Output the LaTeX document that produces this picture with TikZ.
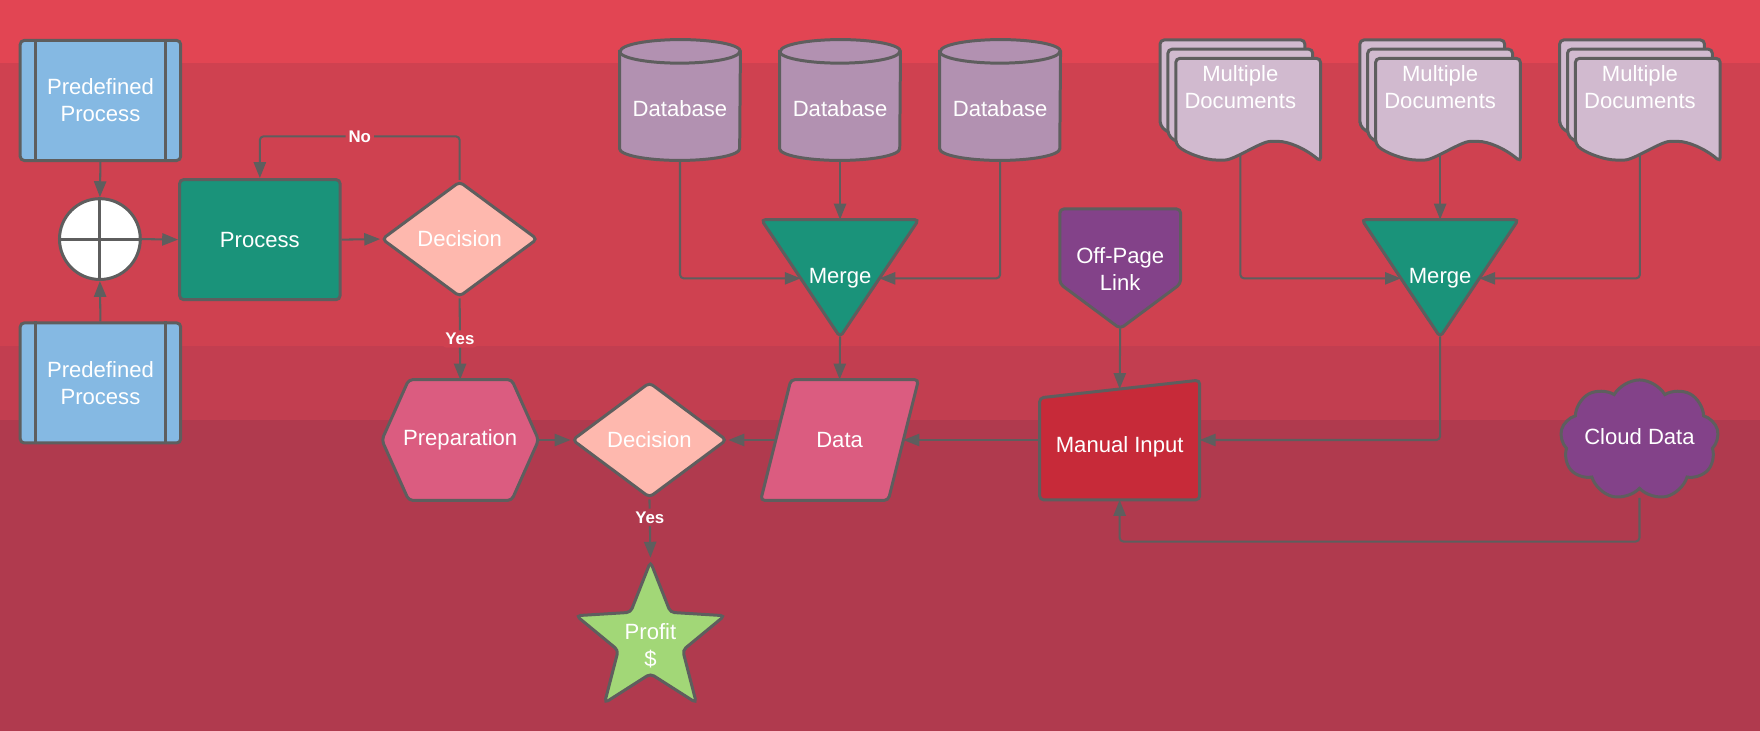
\documentclass[tikz,border=0pt]{standalone}
\usepackage{fontspec}
\setmainfont{Liberation Sans}
\usetikzlibrary{positioning, shapes.geometric, shapes.symbols, arrows.meta, calc, backgrounds}

\definecolor{bgtop}{HTML}{E24553}
\definecolor{bgmid}{HTML}{CF4150}
\definecolor{bglow}{HTML}{C23E50}
\definecolor{bgbot}{HTML}{B03A4E}
\definecolor{edge}{HTML}{5E5E5E}
\definecolor{predef}{HTML}{85B9E3}
\definecolor{tealc}{HTML}{1A937A}
\definecolor{decis}{HTML}{FEB8AE}
\definecolor{prepc}{HTML}{DB5C80}
\definecolor{dbc}{HTML}{B291B1}
\definecolor{docc}{HTML}{D1BACF}
\definecolor{purp}{HTML}{834289}
\definecolor{manc}{HTML}{C72A39}
\definecolor{starc}{HTML}{A2D777}

\newlength{\ux}
\setlength{\ux}{0.6pt}

\tikzstyle{flow} = [draw=edge, line width=1.1pt, -{Triangle[length=8.5pt,width=6.5pt]}, rounded corners=2pt]
\tikzstyle{edgeline} = [draw=edge, line width=1.6pt, rounded corners=2.2pt]
\tikzstyle{lbl} = [text=white, font=\bfseries\fontsize{9}{10}\selectfont, inner sep=1.5pt]

\begin{document}
\begin{tikzpicture}[x=0.6pt, y=-0.6pt, every node/.style={text=white, align=center, inner sep=0pt, font=\fontsize{11.8}{14.4}\selectfont}]
  \useasboundingbox (0,0) rectangle (1568,651);

  % Background bands
  \begin{scope}[on background layer]
    \fill[bgtop] (0,0) rectangle (1568,56);
    \fill[bgmid] (0,56) rectangle (1568,308);
    \fill[bglow] (0,308) rectangle (1568,374);
    \fill[bgbot] (0,374) rectangle (1568,651);
  \end{scope}

  % Left part
  \node[edgeline, fill=predef, minimum width=143\ux, minimum height=107\ux] (pp1) at (89.5,89.5) {Predefined\\Process};
  \node[edgeline, fill=predef, minimum width=143\ux, minimum height=107\ux, below=142\ux of pp1] (pp2) {Predefined\\Process};
  \foreach \p in {pp1,pp2} {
    \draw[edgeline] ([xshift=15\ux]\p.north west) -- ([xshift=15\ux]\p.south west)
                    ([xshift=-15\ux]\p.north east) -- ([xshift=-15\ux]\p.south east);
  }
  \node[edgeline, circle, fill=white, minimum size=72\ux] (sum) at (89,213) {};
  \draw[edgeline] (sum.north) -- (sum.south) (sum.west) -- (sum.east);
  \node[edgeline, fill=tealc, minimum width=143\ux, minimum height=107\ux] (proc) at (231.5,213.5) {Process};
  \node[edgeline, diamond, fill=decis, minimum width=139\ux, minimum height=103\ux] (dec1) at (409.5,213) {Decision};

  % Middle row
  \node[minimum width=139\ux, minimum height=107\ux] (prep) at (410,392) {Preparation};
  \node[edgeline, diamond, fill=decis, minimum width=138\ux, minimum height=103\ux] (dec2) at (578.6,392) {Decision};
  \node[minimum width=113\ux, minimum height=107\ux] (data) at (748,392) {Data};
  \node[edgeline, star, star points=5, star point ratio=2.3, fill=starc, minimum size=139\ux,
        label={[yshift=-3pt]center:Profit\\\$}] (profit) at (579.5,570) {};

  % Databases and merge
  \node[minimum width=107\ux, minimum height=107\ux, text height=18pt, text depth=0pt] (db1) at (605.8,89.1) {Database};
  \node[minimum width=107\ux, minimum height=107\ux, text height=18pt, text depth=0pt] (db2) at (748.4,89.1) {Database};
  \node[minimum width=107\ux, minimum height=107\ux, text height=18pt, text depth=0pt] (db3) at (891,89.1) {Database};
  \node[minimum width=139.6\ux, minimum height=104\ux] (mg1) at (748.4,248) {Merge};

  % Documents and merge
  \node[minimum width=143\ux, minimum height=120.6\ux] (md1) at (1105,77.2) {Multiple\\Documents};
  \node[minimum width=143\ux, minimum height=120.6\ux] (md2) at (1283,77.2) {Multiple\\Documents};
  \node[minimum width=143\ux, minimum height=120.6\ux] (md3) at (1461,77.2) {Multiple\\Documents};
  \node[minimum width=139\ux, minimum height=104\ux] (mg2) at (1283,248) {Merge};

  % Right part
  \node[minimum width=107\ux, minimum height=106\ux] (ofp) at (998,239.5) {Off-Page\\Link};
  \node[minimum width=142\ux, minimum height=106\ux, text height=15.7pt, text depth=2.5pt] (manual) at (997.5,392) {Manual Input};
  \node[edgeline, sharp corners, cloud, cloud puffs=9, cloud puff arc=120, aspect=1.3, fill=purp,
        minimum width=141\ux, minimum height=107\ux, label={[yshift=2pt]center:Cloud Data}] (cdata) at (1460.6,392) {};

  % Outlines of the drawn shapes
  \begin{scope}[on background layer]
    \foreach \d in {db1,db2,db3} {
      \filldraw[edgeline, sharp corners, fill=dbc] ([yshift=-10.5\ux]\d.north west) -- ([yshift=10.5\ux]\d.south west)
        arc[start angle=180, end angle=360, x radius=53.5\ux, y radius=10.5\ux]
        -- ([yshift=-10.5\ux]\d.north east)
        arc[start angle=0, end angle=180, x radius=53.5\ux, y radius=10.5\ux] -- cycle;
      \draw[edgeline, sharp corners] ([yshift=-10.5\ux]\d.north west)
        arc[start angle=180, end angle=360, x radius=53.5\ux, y radius=10.5\ux];
    }
    \foreach \m in {mg1,mg2}
      \filldraw[edgeline, fill=tealc] (\m.north west) -- (\m.north east) -- (\m.south) -- cycle;
    \filldraw[edgeline, fill=prepc] (prep.west) -- ([xshift=24\ux]prep.north west) -- ([xshift=-24\ux]prep.north east)
      -- (prep.east) -- ([xshift=-24\ux]prep.south east) -- ([xshift=24\ux]prep.south west) -- cycle;
    \filldraw[edgeline, fill=prepc] ([xshift=13.5\ux]data.north west) -- ([xshift=13.5\ux]data.north east)
      -- ([xshift=-13.5\ux]data.south east) -- ([xshift=-13.5\ux]data.south west) -- cycle;
    \filldraw[edgeline, fill=purp] (ofp.north west) -- (ofp.north east) -- ([yshift=40\ux]ofp.south east)
      -- (ofp.south) -- ([yshift=40\ux]ofp.south west) -- cycle;
    \filldraw[edgeline, fill=manc] ([yshift=-15.8\ux]manual.north west) -- (manual.north east)
      -- (manual.south east) -- (manual.south west) -- cycle;
    \foreach \m in {md1,md2,md3} {
      \begin{scope}[shift={(\m.center)}]
        \foreach \k in {0,1,2} {
          \pgfmathsetmacro{\a}{-71.5+7*\k}
          \pgfmathsetmacro{\b}{-41.6+8.2*\k}
          \filldraw[edgeline, fill=docc] (\a,\b+76) -- (\a,\b) -- (\a+129,\b) -- (\a+129,\b+92)
            .. controls (\a+115,\b+80) and (\a+100,\b+74) .. (\a+88,\b+74)
            .. controls (\a+76,\b+74) and (\a+52,\b+90.6) .. (\a+40,\b+90.6)
            .. controls (\a+26,\b+90.6) and (\a+8,\b+84) .. (\a,\b+76) -- cycle;
        }
      \end{scope}
    }
  \end{scope}

  % Connectors
  \coordinate (mg1l) at ($(mg1.north west)!.5!(mg1.south)$);
  \coordinate (mg1r) at ($(mg1.north east)!.5!(mg1.south)$);
  \coordinate (mg2l) at ($(mg2.north west)!.5!(mg2.south)$);
  \coordinate (mg2r) at ($(mg2.north east)!.5!(mg2.south)$);

  \draw[flow] (pp1.south) -- (sum.north);
  \draw[flow] (pp2.north) -- (sum.south);
  \draw[flow] (sum.east) -- (proc.west);
  \draw[flow] (proc.east) -- (dec1.west);
  \draw[flow] (dec1.north) -- ++(0,-38.7) -| node[lbl, fill=bgmid, pos=0.25] {No} (proc.north);
  \draw[flow] (dec1.south) -- node[lbl, fill=bgmid] {Yes} (prep.north);
  \draw[flow] (prep.east) -- (dec2.west);
  \draw[flow] (data.west) -- (dec2.east);
  \draw[flow] (dec2.south) -- node[lbl, fill=bgbot, pos=0.31] {Yes} (profit.north);

  \draw[flow] (db1.south) |- (mg1l);
  \draw[flow] (db2.south) -- (mg1.north);
  \draw[flow] (db3.south) |- (mg1r);
  \draw[flow] (mg1.south) -- (data.north);

  \draw[flow] (md1.south) |- (mg2l);
  \draw[flow] (md2.south) -- (mg2.north);
  \draw[flow] (md3.south) |- (mg2r);

  \draw[flow] (ofp.south) -- ([yshift=-7.9\ux]manual.north);
  \draw[flow] (mg2.south) |- (manual.east);
  \draw[flow] (manual.west) -- (data.east);
  \draw[flow] ([yshift=-6.5\ux]cdata.south) -- ++(0,39) -| (manual.south);
\end{tikzpicture}
\end{document}
